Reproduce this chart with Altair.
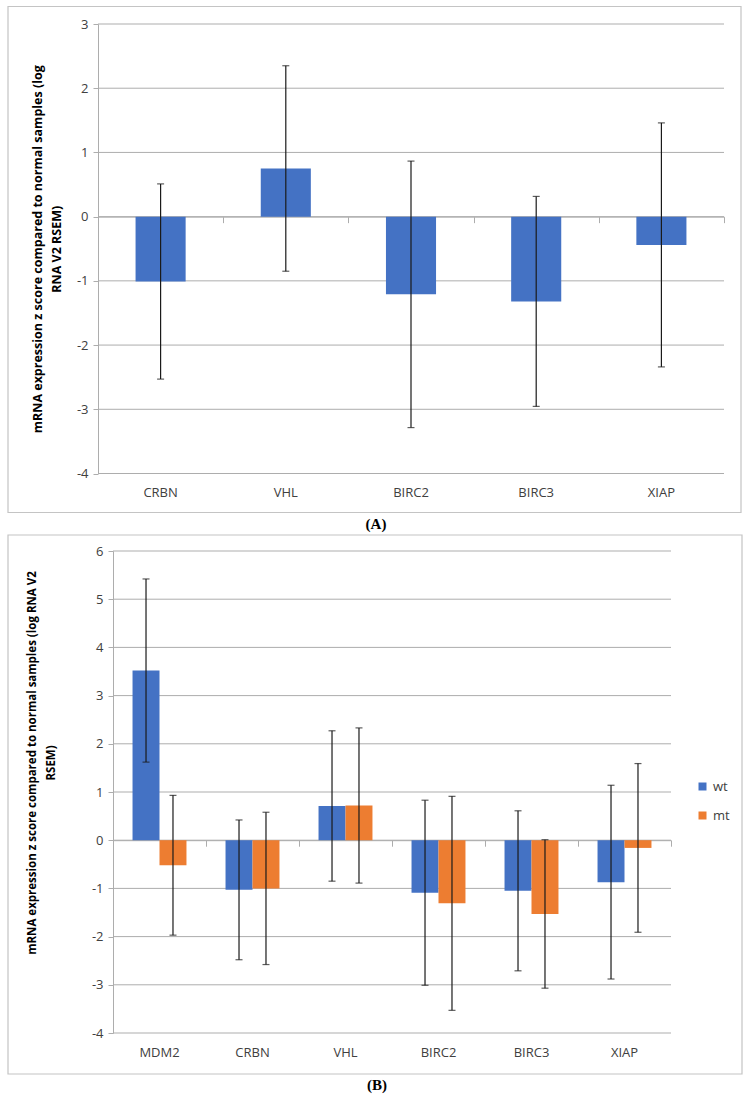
import altair as alt
import pandas as pd

# Panel A: all samples
genes_a = ["CRBN", "VHL", "BIRC2", "BIRC3", "XIAP"]
mean_a = [-1.01, 0.75, -1.21, -1.32, -0.44]
err_a = [1.52, 1.60, 2.075, 1.635, 1.90]

# Panel B: split by status
genes_b = ["MDM2", "CRBN", "VHL", "BIRC2", "BIRC3", "XIAP"]
groups_b = ["wt", "mt"]
wt_mean = [3.52, -1.03, 0.71, -1.09, -1.05, -0.87]
wt_err = [1.90, 1.45, 1.56, 1.92, 1.66, 2.01]
mt_mean = [-0.52, -1.00, 0.72, -1.31, -1.53, -0.16]
mt_err = [1.45, 1.58, 1.61, 2.22, 1.54, 1.75]

ticks_a = [-4, -3, -2, -1, 0, 1, 2, 3]
ticks_b = [-4, -3, -2, -1, 0, 1, 2, 3, 4, 5, 6]

title_a = ["mRNA expression z score compared to normal samples (log", "RNA V2 RSEM)"]
title_b = ["mRNA expression z score compared to normal samples (log RNA V2", "RSEM)"]

BLUE = "#4472C4"
ORANGE = "#ED7D31"
GRID = "#ADADAD"
FRAME = "#C4C4C4"
ERR = "#1a1a1a"
LABEL = "#404040"
FONT = "Open Sans"

df_a = pd.DataFrame({"gene": genes_a, "value": mean_a, "err": err_a})
df_a["lo"] = df_a["value"] - df_a["err"]
df_a["hi"] = df_a["value"] + df_a["err"]

rows = []
for i, g in enumerate(genes_b):
    rows.append({"gene": g, "group": "wt", "value": wt_mean[i], "err": wt_err[i]})
    rows.append({"gene": g, "group": "mt", "value": mt_mean[i], "err": mt_err[i]})
df_b = pd.DataFrame(rows)
df_b["lo"] = df_b["value"] - df_b["err"]
df_b["hi"] = df_b["value"] + df_b["err"]

one = pd.DataFrame({"k": [0]})


def y_axis(ticks, offset):
    return alt.Axis(
        values=ticks, labelExpr="'' + datum.value", grid=False, offset=offset,
        domainColor=GRID, tickColor=GRID, tickSize=5, labelFont=FONT,
        labelFontSize=13, labelColor=LABEL, labelPadding=5, title=None,
    )


def x_label_axis(pad):
    return alt.Axis(title=None, labelAngle=0, ticks=False, domain=False, grid=False,
                    labelPadding=pad, labelFont=FONT, labelFontSize=13,
                    labelColor=LABEL, orient="bottom")


def x_zero_axis(offset):
    return alt.Axis(title=None, labels=False, grid=False, orient="bottom",
                    offset=offset, tickBand="extent", tickSize=6, tickColor=GRID,
                    domainColor=GRID, domainWidth=1)


def decor(w_left, w_right, top, bottom, frame, caption):
    # transparent cell that fixes the panel's outer extent
    cell = alt.Chart(one).mark_rect(fill="white", opacity=0, strokeWidth=0).encode(
        x=alt.value(w_left), x2=alt.value(w_right), y=alt.value(top), y2=alt.value(bottom))
    box = alt.Chart(one).mark_rect(fillOpacity=0, stroke=FRAME, strokeWidth=1.2).encode(
        x=alt.value(frame[0]), x2=alt.value(frame[1]), y=alt.value(frame[2]), y2=alt.value(frame[3]))
    cap = alt.Chart(one).mark_text(text=caption[0], font="Liberation Serif", fontWeight="bold",
                                   fontSize=15, color="#000000").encode(
        x=alt.value(caption[1]), y=alt.value(caption[2]))
    return cell, box, cap


def y_title(lines, size, line_h, x, y):
    # rotated two-line axis title; the first line sits at x, the second to its right
    return alt.Chart(one).mark_text(
        text=lines, angle=270, font=FONT, fontWeight="bold", fontSize=size,
        lineHeight=line_h, align="center", baseline="middle", color="#000000",
    ).encode(x=alt.value(x), y=alt.value(y))


def gridlines(ticks, scale, axis, x0, x1):
    return alt.Chart(pd.DataFrame({"t": ticks})).mark_rule(color=GRID, strokeWidth=1).encode(
        y=alt.Y("t:Q", scale=scale, axis=axis), x=alt.value(x0), x2=alt.value(x1))


# Both panels share one left edge for their views; panel A's plot sits 15px
# further left, so its scale range starts at -15 and its y axis is offset by 15.
SHIFT = 15

# ---------- Panel A ----------
WA, HA = 626, 449.5
ya_min, ya_max = -4, 3
xa_scale = alt.Scale(domain=genes_a, range=[-SHIFT, WA - SHIFT], paddingInner=0, paddingOuter=0)
ya_scale = alt.Scale(domain=[ya_min, ya_max], nice=False, zero=False)
ya_axis = y_axis(ticks_a, SHIFT)
zero_a = -HA * (0 - ya_min) / (ya_max - ya_min)

base_a = alt.Chart(df_a)
grid_a = gridlines(ticks_a, ya_scale, ya_axis, -SHIFT, WA - SHIFT)
bars_a = base_a.mark_bar(color=BLUE, width=alt.RelativeBandSize(0.4)).encode(
    x=alt.X("gene:N", sort=genes_a, scale=xa_scale, axis=x_label_axis(13)),
    y=alt.Y("value:Q", scale=ya_scale, axis=ya_axis),
)
rule_a = base_a.mark_rule(color=ERR, strokeWidth=1.2).encode(
    x=alt.X("gene:N", sort=genes_a, scale=xa_scale, axis=x_zero_axis(zero_a)),
    y=alt.Y("lo:Q", scale=ya_scale, axis=ya_axis),
    y2="hi:Q",
)
cap_lo_a = base_a.mark_tick(color=ERR, size=7, thickness=1.2).encode(
    x=alt.X("gene:N", sort=genes_a, scale=xa_scale, axis=None),
    y=alt.Y("lo:Q", scale=ya_scale, axis=ya_axis))
cap_hi_a = base_a.mark_tick(color=ERR, size=7, thickness=1.2).encode(
    x=alt.X("gene:N", sort=genes_a, scale=xa_scale, axis=None),
    y=alt.Y("hi:Q", scale=ya_scale, axis=ya_axis))

cell_a, box_a, cap_a = decor(-98 - SHIFT, 650 - SHIFT, -23.5, 506.5,
                             (-90 - SHIFT, 643 - SHIFT, -17.5, 488.5),
                             ("(A)", 278 - SHIFT, 499.5))
ytitle_a = y_title(title_a, 12.5, 18.5, -74.7, 225.25)
panel_a = alt.layer(cell_a, box_a, grid_a, bars_a, rule_a, cap_lo_a, cap_hi_a,
                    ytitle_a, cap_a).resolve_axis(x="independent").properties(
    width=WA - SHIFT, height=HA)

# ---------- Panel B ----------
WB, HB = 558, 482
yb_min, yb_max = -4, 6
xb_scale = alt.Scale(domain=genes_b, paddingInner=0, paddingOuter=0)
yb_scale = alt.Scale(domain=[yb_min, yb_max], nice=False, zero=False)
yb_axis = y_axis(ticks_b, 0)
off_scale = alt.Scale(domain=groups_b, paddingInner=0, paddingOuter=0.724)
zero_b = -HB * (0 - yb_min) / (yb_max - yb_min)

base_b = alt.Chart(df_b)
grid_b = gridlines(ticks_b, yb_scale, yb_axis, 0, WB)
bars_b = base_b.mark_bar().encode(
    x=alt.X("gene:N", sort=genes_b, scale=xb_scale, axis=x_label_axis(13)),
    xOffset=alt.XOffset("group:N", sort=groups_b, scale=off_scale),
    y=alt.Y("value:Q", scale=yb_scale, axis=yb_axis),
    color=alt.Color("group:N", sort=groups_b,
                    scale=alt.Scale(domain=groups_b, range=[BLUE, ORANGE]),
                    legend=alt.Legend(title=None, orient="none", legendX=583, legendY=229,
                                      symbolType="square", symbolSize=64,
                                      symbolStrokeWidth=0, labelFont=FONT,
                                      labelFontSize=13, labelColor=LABEL,
                                      labelOffset=4, rowPadding=15)),
)
rule_b = base_b.mark_rule(color=ERR, strokeWidth=1.2).encode(
    x=alt.X("gene:N", sort=genes_b, scale=xb_scale, axis=x_zero_axis(zero_b)),
    xOffset=alt.XOffset("group:N", sort=groups_b, scale=off_scale),
    y=alt.Y("lo:Q", scale=yb_scale, axis=yb_axis),
    y2="hi:Q",
)
cap_lo_b = base_b.mark_tick(color=ERR, size=7, thickness=1.2).encode(
    x=alt.X("gene:N", sort=genes_b, scale=xb_scale, axis=None),
    xOffset=alt.XOffset("group:N", sort=groups_b, scale=off_scale),
    y=alt.Y("lo:Q", scale=yb_scale, axis=yb_axis))
cap_hi_b = base_b.mark_tick(color=ERR, size=7, thickness=1.2).encode(
    x=alt.X("gene:N", sort=genes_b, scale=xb_scale, axis=None),
    xOffset=alt.XOffset("group:N", sort=groups_b, scale=off_scale),
    y=alt.Y("hi:Q", scale=yb_scale, axis=yb_axis))

cell_b, box_b, cap_b = decor(-113, 635, -19, 545, (-105, 629, -16, 523), ("(B)", 264, 534))
ytitle_b = y_title(title_b, 11.5, 19, -80, 212)
panel_b = alt.layer(cell_b, box_b, grid_b, bars_b, rule_b, cap_lo_b, cap_hi_b,
                    ytitle_b, cap_b).resolve_axis(x="independent").properties(
    width=WB, height=HB)

chart = alt.vconcat(panel_a, panel_b, spacing=0).resolve_scale(
    x="independent", y="independent", color="independent", xOffset="independent"
).properties(padding=0, background="white").configure_view(stroke=None)

chart.save("out.html", embed_options={"renderer": "svg", "actions": False})
